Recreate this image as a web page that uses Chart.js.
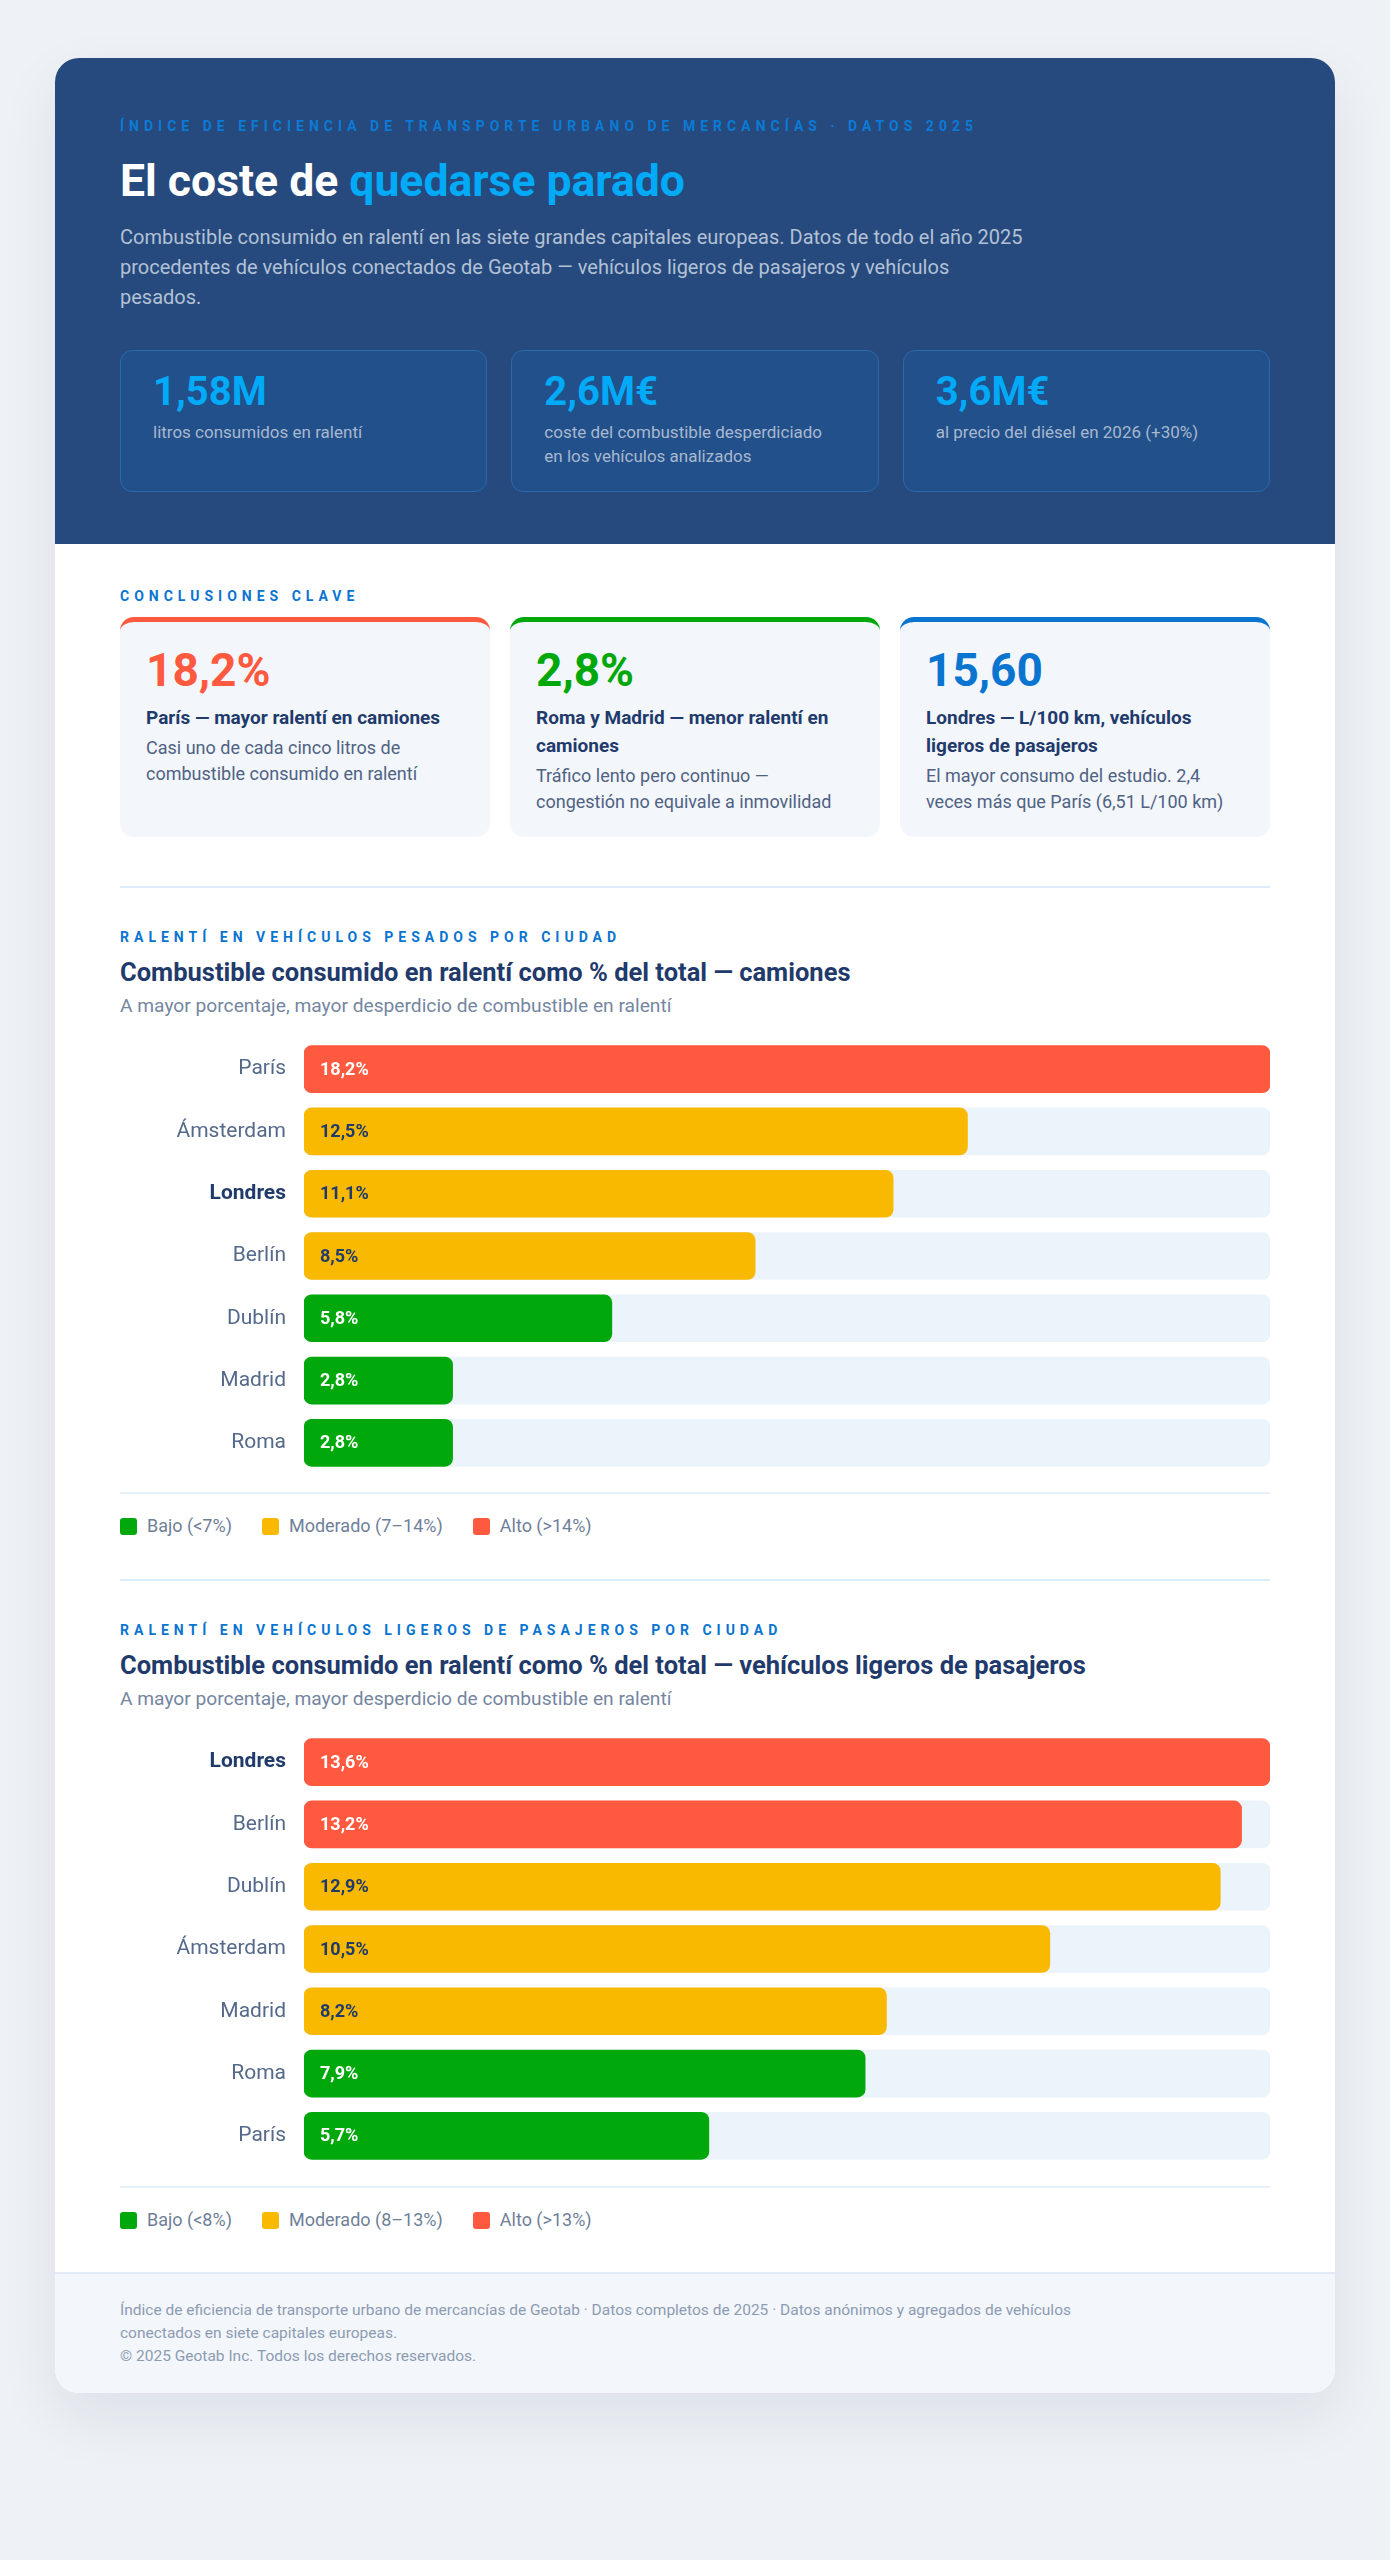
<!DOCTYPE html>
<html lang="es">
<head>
<meta charset="utf-8">
<title>El coste de quedarse parado</title>
<script src="https://cdn.jsdelivr.net/npm/chart.js@4.4.1/dist/chart.umd.min.js"></script>
<style>
  * { box-sizing: border-box; }
  body {
    margin: 0;
    padding: 58px 0 80px;
    background: #eef1f5;
    font-family: Roboto, "Noto Sans", sans-serif;
    color: #1f3a6b;
  }
  .card {
    width: 1280px;
    margin: 0 auto;
    background: #ffffff;
    border-radius: 24px;
    overflow: hidden;
    box-shadow: 0 24px 60px rgba(30, 50, 90, 0.08);
  }
  .hero {
    background: #264a7d;
    padding: 58px 65px 52px;
  }
  .eyebrow {
    font-size: 14px;
    line-height: 20px;
    font-weight: 700;
    letter-spacing: 5px;
    text-transform: uppercase;
    color: #0a74d1;
    margin: 0;
  }
  .hero .eyebrow { color: #0b7ad6; }
  .hero h1 {
    margin: 19px 0 0;
    font-size: 44.5px;
    line-height: 52px;
    font-weight: 700;
    color: #ffffff;
  }
  .hero h1 span { color: #00aaf7; }
  .hero p.lead {
    margin: 15px 0 0;
    max-width: 910px;
    font-size: 20px;
    line-height: 30px;
    color: #b3c1d6;
  }
  .stats {
    display: grid;
    grid-template-columns: repeat(3, 1fr);
    gap: 24px;
    margin-top: 38px;
  }
  .stat {
    background: #22508a;
    border: 1px solid #2a69aa;
    border-radius: 12px;
    padding: 19px 32px 23px;
  }
  .stat .num {
    font-size: 40px;
    line-height: 44px;
    font-weight: 700;
    color: #00aaf7;
  }
  .stat .lbl {
    margin-top: 6px;
    font-size: 17px;
    line-height: 24px;
    color: #a8b8cf;
  }
  .body {
    padding: 42px 65px 40px;
  }
  .keys {
    display: grid;
    grid-template-columns: repeat(3, 1fr);
    gap: 20px;
    margin-top: 11px;
  }
  .key {
    background: #f3f6fb;
    border-radius: 14px;
    border-top: 5px solid;
    padding: 23px 26px 22px;
  }
  .key .num {
    font-size: 46px;
    line-height: 50px;
    font-weight: 700;
  }
  .key h3 {
    margin: 9px 0 0;
    font-size: 19px;
    line-height: 28px;
    font-weight: 700;
    color: #1f3a6b;
  }
  .key p {
    margin: 3px 0 0;
    font-size: 18px;
    line-height: 26px;
    color: #4f6283;
  }
  .rule {
    height: 2px;
    background: #dcecf8;
  }
  .section { margin-top: 49px; }
  .section .eyebrow { margin-top: 39px; }
  .section h2 {
    margin: 9px 0 0;
    font-size: 25.5px;
    line-height: 32px;
    font-weight: 700;
    color: #1f3a6b;
  }
  .section .sub {
    margin: 6px 0 0;
    font-size: 19.2px;
    line-height: 24px;
    color: #7586a1;
  }
  .chartBox {
    position: relative;
    height: 436px;
    margin: 20px 0 18px;
  }
  .thin { height: 2px; background: #e7f0fa; }
  .legend {
    display: flex;
    gap: 30px;
    margin-top: 20px;
    font-size: 18px;
    line-height: 24px;
    color: #6f7f9a;
  }
  .legend span.item { display: flex; align-items: center; gap: 10px; }
  .legend i {
    display: inline-block;
    width: 17px;
    height: 17px;
    border-radius: 3px;
  }
  .footer {
    background: #f3f6fb;
    border-top: 2px solid #e1eaf6;
    padding: 25px 65px 25px;
    font-size: 15.5px;
    line-height: 23px;
    color: #8d9bb2;
  }
  .footer p { margin: 0; max-width: 960px; }
</style>
</head>
<body>
<div class="card">
  <div class="hero">
    <p class="eyebrow">Índice de eficiencia de transporte urbano de mercancías · Datos 2025</p>
    <h1>El coste de <span>quedarse parado</span></h1>
    <p class="lead">Combustible consumido en ralentí en las siete grandes capitales europeas. Datos de todo el año 2025 procedentes de vehículos conectados de Geotab — vehículos ligeros de pasajeros y vehículos pesados.</p>
    <div class="stats">
      <div class="stat"><div class="num">1,58M</div><div class="lbl">litros consumidos en ralentí</div></div>
      <div class="stat"><div class="num">2,6M€</div><div class="lbl">coste del combustible desperdiciado<br>en los vehículos analizados</div></div>
      <div class="stat"><div class="num">3,6M€</div><div class="lbl">al precio del diésel en 2026 (+30%)</div></div>
    </div>
  </div>

  <div class="body">
    <p class="eyebrow">Conclusiones clave</p>
    <div class="keys">
      <div class="key" style="border-top-color:#ff5a40">
        <div class="num" style="color:#ff5a40">18,2%</div>
        <h3>París — mayor ralentí en camiones</h3>
        <p>Casi uno de cada cinco litros de combustible consumido en ralentí</p>
      </div>
      <div class="key" style="border-top-color:#00a80b">
        <div class="num" style="color:#00a80b">2,8%</div>
        <h3>Roma y Madrid — menor ralentí en camiones</h3>
        <p>Tráfico lento pero continuo — congestión no equivale a inmovilidad</p>
      </div>
      <div class="key" style="border-top-color:#0a74d1">
        <div class="num" style="color:#0a74d1">15,60</div>
        <h3>Londres — L/100 km, vehículos ligeros de pasajeros</h3>
        <p>El mayor consumo del estudio. 2,4 veces más que París (6,51 L/100 km)</p>
      </div>
    </div>

    <div class="section">
      <div class="rule"></div>
      <p class="eyebrow">Ralentí en vehículos pesados por ciudad</p>
      <h2>Combustible consumido en ralentí como % del total — camiones</h2>
      <p class="sub">A mayor porcentaje, mayor desperdicio de combustible en ralentí</p>
      <div class="chartBox"><canvas id="Chart1"></canvas></div>
      <div class="thin"></div>
      <div class="legend" id="legend1"></div>
    </div>

    <div class="section" style="margin-top:41px">
      <div class="rule"></div>
      <p class="eyebrow">Ralentí en vehículos ligeros de pasajeros por ciudad</p>
      <h2>Combustible consumido en ralentí como % del total — vehículos ligeros de pasajeros</h2>
      <p class="sub">A mayor porcentaje, mayor desperdicio de combustible en ralentí</p>
      <div class="chartBox" style="margin-bottom:19px"><canvas id="Chart2"></canvas></div>
      <div class="thin"></div>
      <div class="legend" id="legend2"></div>
    </div>
  </div>

  <div class="footer">
    <p>Índice de eficiencia de transporte urbano de mercancías de Geotab · Datos completos de 2025 · Datos anónimos y agregados de vehículos conectados en siete capitales europeas.</p>
    <p>© 2025 Geotab Inc. Todos los derechos reservados.</p>
  </div>
</div>

<script>
// DATA

// heavy vehicles (trucks), % of fuel burnt idling
const truckCities = ['París', 'Ámsterdam', 'Londres', 'Berlín', 'Dublín', 'Madrid', 'Roma'];
const truckIdle = [18.2, 12.5, 11.1, 8.5, 5.8, 2.8, 2.8];
const truckLimits = [7, 14]; // bajo < 7, moderado 7-14, alto > 14

// light passenger vehicles, % of fuel burnt idling
const carCities = ['Londres', 'Berlín', 'Dublín', 'Ámsterdam', 'Madrid', 'Roma', 'París'];
const carIdle = [13.6, 13.2, 12.9, 10.5, 8.2, 7.9, 5.7];
const carLimits = [8, 13]; // bajo < 8, moderado 8-13, alto > 13

const highlightCity = 'Londres';
const levelNames = ['Bajo', 'Moderado', 'Alto'];

// ----------------------------------------------------------------------------

const colors = {
    low: '#00a80b',
    mid: '#f9b900',
    high: '#ff5a40',
    track: '#ebf3fb',
    navy: '#1f3a6b',
    label: '#55698a'
};

// pick the bar colour from the thresholds
function levelColor(value, limits) {
    if (value < limits[0]) return colors.low;
    if (value <= limits[1]) return colors.mid;
    return colors.high;
}

// "18.2" -> "18,2%"
function fmt(value) {
    return value.toFixed(1).replace('.', ',') + '%';
}

// writes the value inside each bar, near its base
const barLabels = {
    id: 'barLabels',
    afterDatasetsDraw(chart) {
        const meta = chart.getDatasetMeta(0);
        const values = chart.data.datasets[0].data;
        const limits = chart.options.plugins.barLabels.limits;
        const c = chart.ctx;
        c.save();
        c.font = '700 18px Roboto';
        c.textBaseline = 'middle';
        c.textAlign = 'left';
        meta.data.forEach((bar, i) => {
            const col = levelColor(values[i], limits);
            c.fillStyle = col === colors.mid ? colors.navy : '#ffffff';
            c.fillText(fmt(values[i]), bar.base + 16, bar.y + 1);
        });
        c.restore();
    }
};

function plotIdle(canvasId, cities, values, limits) {
    const top = Math.max(...values);
    const ctx = document.getElementById(canvasId).getContext('2d');
    return new Chart(ctx, {
        type: 'bar',
        data: {
            labels: cities,
            datasets: [{
                label: 'Ralentí',
                data: values,
                backgroundColor: values.map(v => levelColor(v, limits)),
                borderRadius: 8,
                borderSkipped: false,
                barThickness: 47,
                grouped: false,
                order: 1
            }, {
                label: 'Fondo',
                data: cities.map(() => top), // full-width track behind each bar
                backgroundColor: colors.track,
                borderRadius: 8,
                borderSkipped: false,
                barThickness: 47,
                grouped: false,
                order: 2
            }]
        },
        options: {
            indexAxis: 'y',
            responsive: true,
            maintainAspectRatio: false,
            animation: false,
            layout: { padding: 0 },
            plugins: {
                legend: { display: false },
                tooltip: { enabled: false },
                barLabels: { limits: limits }
            },
            scales: {
                x: {
                    display: false,
                    min: 0,
                    max: top
                },
                y: {
                    grid: { display: false, drawTicks: false },
                    border: { display: false },
                    // fixed label column, and no extra space above / below the bars
                    afterFit: (scale) => {
                        scale.width = 184;
                        scale.paddingTop = 0;
                        scale.paddingBottom = 0;
                    },
                    ticks: {
                        padding: 18,
                        color: (c) => cities[c.index] === highlightCity ? colors.navy : colors.label,
                        font: (c) => ({
                            family: 'Roboto',
                            size: 21,
                            weight: cities[c.index] === highlightCity ? '700' : '400'
                        })
                    }
                }
            }
        },
        plugins: [barLabels]
    });
}

// html legend built from the thresholds
function buildLegend(id, limits) {
    const texts = [
        `${levelNames[0]} (<${limits[0]}%)`,
        `${levelNames[1]} (${limits[0]}–${limits[1]}%)`,
        `${levelNames[2]} (>${limits[1]}%)`
    ];
    const swatches = [colors.low, colors.mid, colors.high];
    document.getElementById(id).innerHTML = texts.map((t, i) =>
        `<span class="item"><i style="background:${swatches[i]}"></i>${t}</span>`).join('');
}

const Chart1 = plotIdle('Chart1', truckCities, truckIdle, truckLimits);
const Chart2 = plotIdle('Chart2', carCities, carIdle, carLimits);
buildLegend('legend1', truckLimits);
buildLegend('legend2', carLimits);
</script>
</body>
</html>
